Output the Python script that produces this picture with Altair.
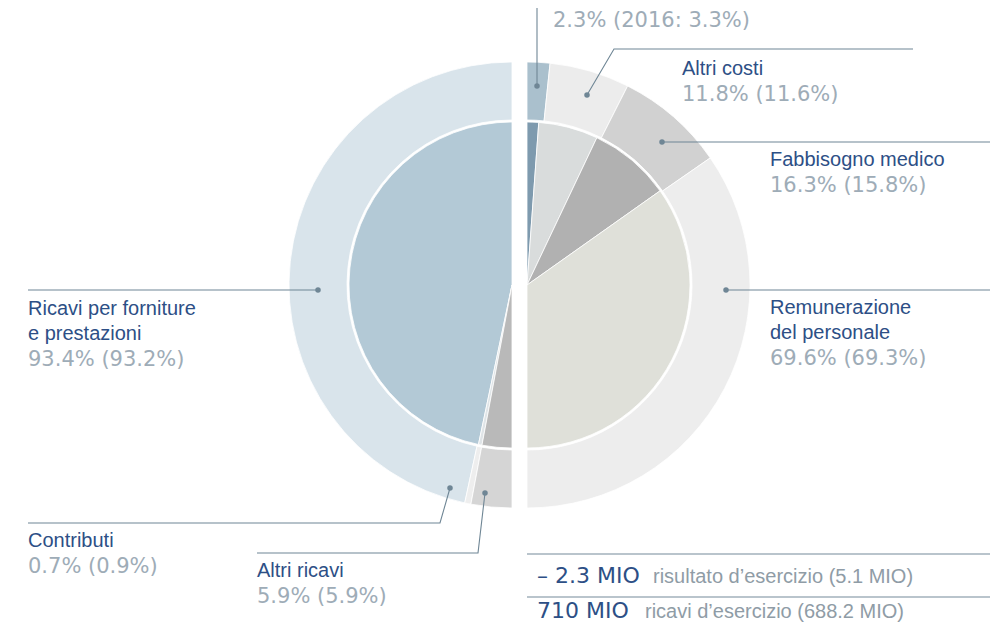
import altair as alt
import pandas as pd

# ---------------- data ----------------
rev_names = ["Ricavi per forniture e prestazioni", "Contributi", "Altri ricavi"]
rev_2017 = [93.4, 0.7, 5.9]
rev_2016 = [93.2, 0.9, 5.9]

cost_names = ["Voce superiore", "Altri costi", "Fabbisogno medico", "Remunerazione del personale"]
cost_2017 = [2.3, 11.8, 16.3, 69.6]
cost_2016 = [3.3, 11.6, 15.8, 69.3]

result_2017 = "– 2.3"
result_2016 = "5.1"
revenue_2017 = "710"
revenue_2016 = "688.2"

# label texts (category names, split in lines)
rev_label_lines = [["Ricavi per forniture", "e prestazioni"], ["Contributi"], ["Altri ricavi"]]
cost_label_lines = [[], ["Altri costi"], ["Fabbisogno medico"], ["Remunerazione", "del personale"]]

# ---------------- styles / layout ----------------
rev_inner_colors = ["#b3c9d6", "#dfe4e7", "#b9b9b9"]
rev_outer_colors = ["#d9e4eb", "#eeeeee", "#d5d5d5"]
cost_inner_colors = ["#7e9aae", "#d9dcdc", "#b1b1b1", "#dfe0d9"]
cost_outer_colors = ["#aac0cd", "#ececec", "#d1d1d1", "#ededed"]

M = 8  # page margin
PI = 3.141592653589793
LEFT_C = (512 - M, 285 - M)
RIGHT_C = (527 - M, 285 - M)
R_OUT, R_MID_OUT, R_IN = 223, 165, 163

NAME_COLOR = "#2d4f86"
PCT_COLOR = "#9eacb7"
LEAD_COLOR = "#6f8695"

# label anchors (page coords): x, baseline of first line
rev_label_pos = [(28, 315), (28, 547), (257, 577)]
cost_label_pos = [(553, 27), (682, 75), (770, 166), (770, 314)]
LINE_H = 25

# leader lines (page coords)
rev_leaders = [
    [(318, 290), (28, 290)],
    [(450, 488), (440, 523), (28, 523)],
    [(485, 493), (478, 553), (257, 553)],
]
cost_leaders = [
    [(537, 86), (537, 0)],
    [(587, 95), (614, 49), (913, 49)],
    [(662, 142), (998, 142)],
    [(726, 290), (998, 290)],
]
bottom_rules_y = [554, 597]


def ring_frame(values, colors):
    return pd.DataFrame({"val": values, "idx": list(range(len(values))), "color": colors})


def ring(df, center, r_out, r_in, rng):
    kw = dict(radius=r_out, stroke="white", strokeWidth=0.8)
    if r_in > 0:
        kw["radius2"] = r_in
    return alt.Chart(df).mark_arc(**kw).encode(
        theta=alt.Theta("val:Q", stack=True, scale=alt.Scale(domain=[0, 100], range=rng)),
        color=alt.Color("color:N", scale=None),
        order=alt.Order("idx:Q"),
        x=alt.value(center[0]),
        y=alt.value(center[1]),
    )


L_RANGE = [2 * PI, PI]
R_RANGE = [0, PI]

arcs = [
    ring(ring_frame(rev_2016, rev_outer_colors), LEFT_C, R_OUT, R_MID_OUT, L_RANGE),
    ring(ring_frame(rev_2017, rev_inner_colors), LEFT_C, R_IN, 0, L_RANGE),
    ring(ring_frame(cost_2016, cost_outer_colors), RIGHT_C, R_OUT, R_MID_OUT, R_RANGE),
    ring(ring_frame(cost_2017, cost_inner_colors), RIGHT_C, R_IN, 0, R_RANGE),
]

# leader lines + dots
seg_rows, dot_rows = [], []
for gi, pts in enumerate(rev_leaders + cost_leaders):
    for si, (px, py) in enumerate(pts):
        seg_rows.append({"g": gi, "s": si, "x": px - M, "y": py - M})
    dot_rows.append({"x": pts[0][0] - M, "y": pts[0][1] - M})

leaders = alt.Chart(pd.DataFrame(seg_rows)).mark_line(color=LEAD_COLOR, strokeWidth=1.1).encode(
    x=alt.X("x:Q", scale=None), y=alt.Y("y:Q", scale=None), detail="g:N", order="s:Q"
)
dots = alt.Chart(pd.DataFrame(dot_rows)).mark_circle(color=LEAD_COLOR, opacity=1, size=30).encode(
    x=alt.X("x:Q", scale=None), y=alt.Y("y:Q", scale=None)
)
rule_rows = []
for gi, yy in enumerate(bottom_rules_y):
    rule_rows.append({"g": gi, "s": 0, "x": 527 - M, "y": yy - M})
    rule_rows.append({"g": gi, "s": 1, "x": 998 - M, "y": yy - M})
rules = alt.Chart(pd.DataFrame(rule_rows)).mark_line(color="#b9c4cc", strokeWidth=2).encode(
    x=alt.X("x:Q", scale=None), y=alt.Y("y:Q", scale=None), detail="g:N", order="s:Q"
)

# texts
name_rows, pct_rows = [], []
for lines, (px, py), v17, v16 in zip(rev_label_lines, rev_label_pos, rev_2017, rev_2016):
    for li, t in enumerate(lines):
        name_rows.append({"t": t, "x": px - M, "y": py - M + li * LINE_H})
    pct_rows.append({"t": f"{v17}% ({v16}%)", "x": px - M, "y": py - M + len(lines) * LINE_H + 1})
for k, (lines, (px, py), v17, v16) in enumerate(zip(cost_label_lines, cost_label_pos, cost_2017, cost_2016)):
    for li, t in enumerate(lines):
        name_rows.append({"t": t, "x": px - M, "y": py - M + li * LINE_H})
    txt = f"{v17}% (2016: {v16}%)" if k == 0 else f"{v17}% ({v16}%)"
    pct_rows.append({"t": txt, "x": px - M, "y": py - M + len(lines) * LINE_H + (1 if lines else 0)})

names = alt.Chart(pd.DataFrame(name_rows)).mark_text(
    align="left", baseline="alphabetic", font="Liberation Sans", fontSize=20, color=NAME_COLOR
).encode(x=alt.X("x:Q", scale=None), y=alt.Y("y:Q", scale=None), text="t:N")
pcts = alt.Chart(pd.DataFrame(pct_rows)).mark_text(
    align="left", baseline="alphabetic", font="DejaVu Sans", fontSize=21, color=PCT_COLOR
).encode(x=alt.X("x:Q", scale=None), y=alt.Y("y:Q", scale=None), text="t:N")

big_rows = [
    {"t": f"{result_2017} MIO", "x": 537 - M, "y": 583 - M},
    {"t": f"{revenue_2017} MIO", "x": 537 - M, "y": 618 - M},
]
small_rows = [
    {"t": f"risultato d’esercizio ({result_2016}  MIO)", "x": 653 - M, "y": 583 - M},
    {"t": f"ricavi d’esercizio ({revenue_2016} MIO)", "x": 645 - M, "y": 618 - M},
]
bigs = alt.Chart(pd.DataFrame(big_rows)).mark_text(
    align="left", baseline="alphabetic", font="DejaVu Sans", fontSize=22, color=NAME_COLOR
).encode(x=alt.X("x:Q", scale=None), y=alt.Y("y:Q", scale=None), text="t:N")
smalls = alt.Chart(pd.DataFrame(small_rows)).mark_text(
    align="left", baseline="alphabetic", font="Liberation Sans", fontSize=20, color="#8f9ca6"
).encode(x=alt.X("x:Q", scale=None), y=alt.Y("y:Q", scale=None), text="t:N")

chart = (
    alt.layer(*arcs, rules, leaders, dots, names, pcts, bigs, smalls)
    .resolve_scale(theta="independent")
    .properties(width=982, height=614, padding=0, autosize=alt.AutoSizeParams(type="none"))
    .configure_view(stroke=None)
)

chart.save("out.html", embed_options={"renderer": "svg", "actions": False})
